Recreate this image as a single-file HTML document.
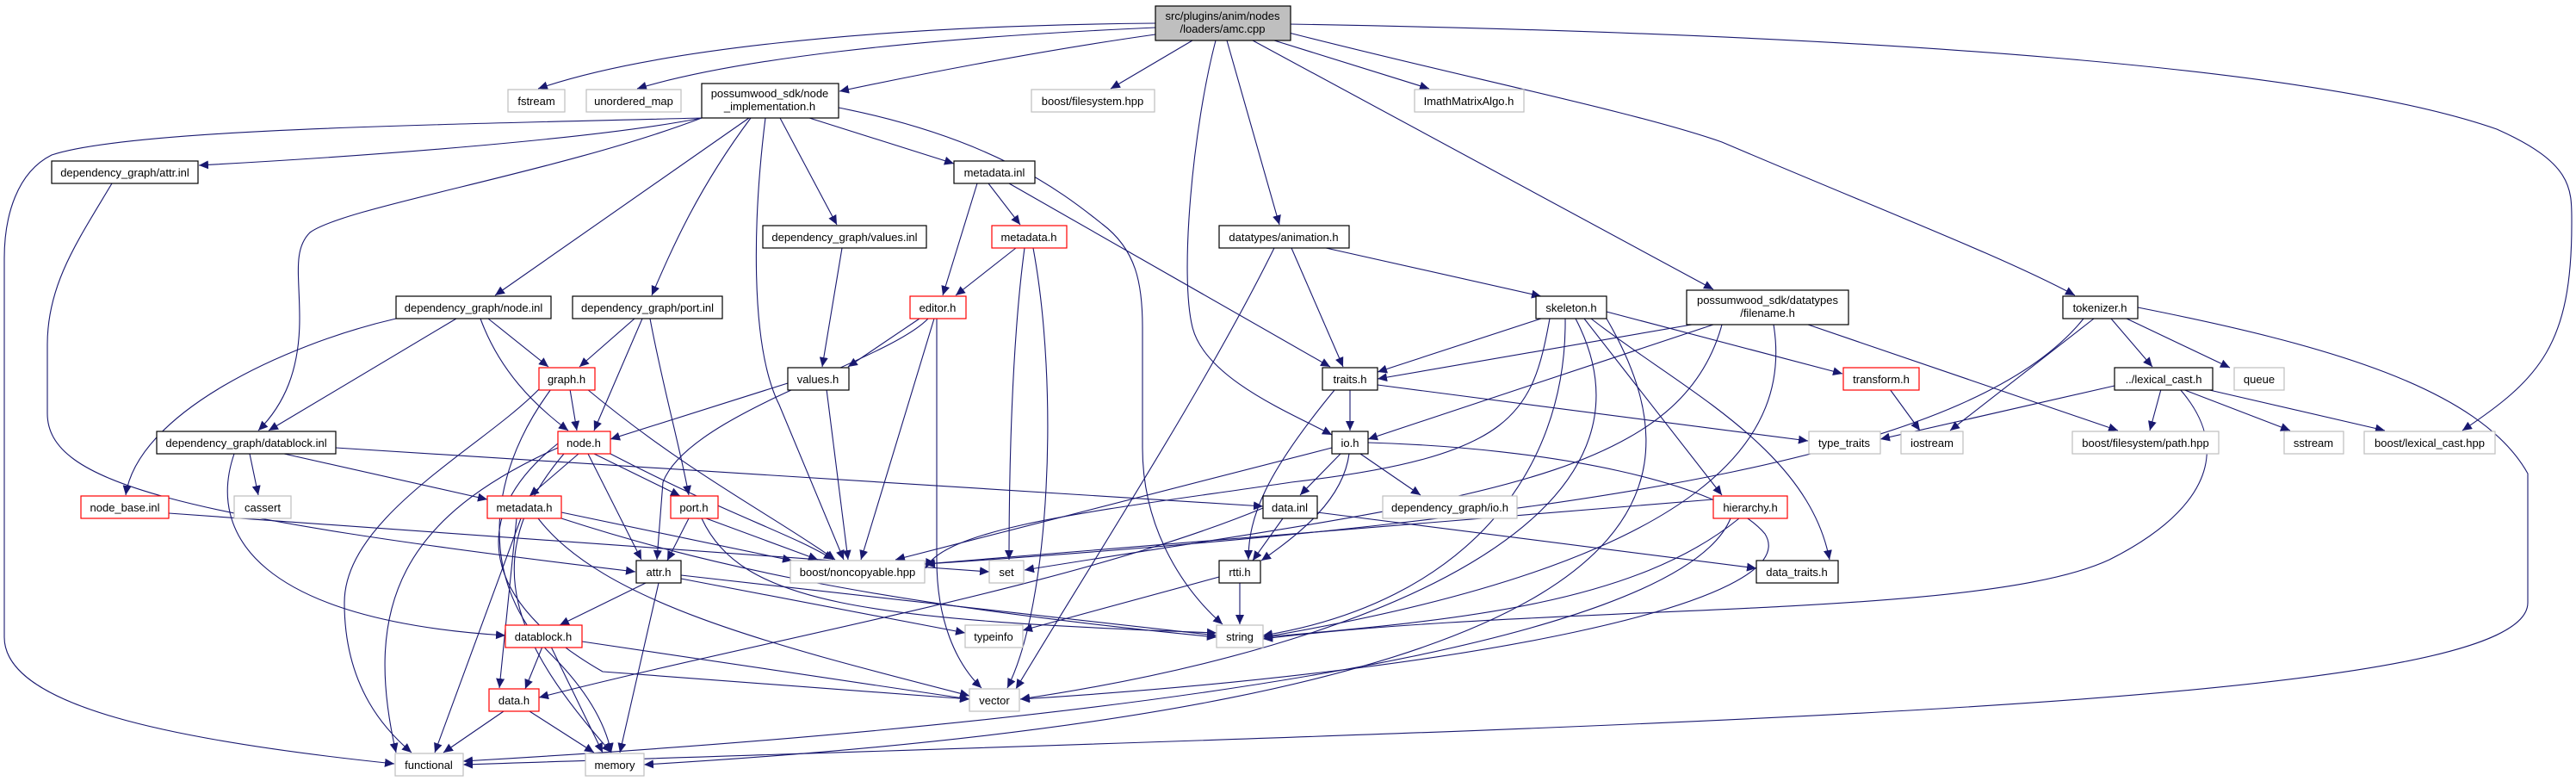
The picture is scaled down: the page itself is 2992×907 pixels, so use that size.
<!DOCTYPE html>
<html><head><meta charset="utf-8"><style>
html,body{margin:0;padding:0;background:#fff;}
svg{display:block;}
text{font-family:"Liberation Sans",Arial,sans-serif;font-size:13px;fill:#000;}
.b{fill:#fff;stroke:#000;stroke-width:1.2}
.r{fill:#fff;stroke:#f00;stroke-width:1.2}
.g{fill:#fff;stroke:#bfbfbf;stroke-width:1.2}
.e{fill:none;stroke:#191970;stroke-width:1.1}
</style></head><body>
<svg width="2992" height="907" viewBox="0 0 2992 907" xmlns="http://www.w3.org/2000/svg">
<defs><marker id="a" markerUnits="userSpaceOnUse" markerWidth="12" markerHeight="10" refX="11" refY="5" orient="auto"><path d="M0,0 L11,5 L0,10 z" fill="#191970"/></marker></defs>
<g class="e" marker-end="url(#a)">
<path d="M1342,27 C1000,30 750,60 625,103"/>
<path d="M1342,32 C1050,45 850,70 740,103"/>
<path d="M1342,40 C1200,60 1050,90 975,106"/>
<path d="M1385,47 L1290,103"/>
<path d="M1412,47 C1385,150 1370,320 1385,380 C1400,440 1500,480 1547,505"/>
<path d="M1425,47 L1486,261"/>
<path d="M1480,47 L1660,103"/>
<path d="M1455,47 L1990,336"/>
<path d="M1497,38 C1700,90 1900,130 2000,165 C2200,250 2330,300 2410,343"/>
<path d="M1497,28 C2200,40 2700,80 2900,150 C2990,190 2987,220 2987,260 C2987,400 2950,440 2860,500"/>
<path d="M815,137 C500,145 150,150 60,180 C20,200 5,250 5,300 L5,740 C5,820 200,860 458,887"/>
<path d="M815,137 C700,160 450,180 231,192"/>
<path d="M815,137 C650,200 400,240 360,270 C340,290 348,320 348,370 C348,430 330,470 300,500"/>
<path d="M870,137 L575,343"/>
<path d="M872,137 C810,220 780,290 757,343"/>
<path d="M889,137 C875,250 870,400 905,470 L980,650"/>
<path d="M906,137 L972,261"/>
<path d="M940,137 L1108,190"/>
<path d="M974,125 C1150,160 1230,220 1280,260 C1320,290 1327,330 1327,380 L1327,520 C1327,620 1380,690 1420,725"/>
<path d="M130,213 C90,280 55,330 55,400 L55,480 C55,560 200,600 738,664"/>
<path d="M460,370 C330,400 160,480 146,575"/>
<path d="M530,370 L312,500"/>
<path d="M567,370 L637,426"/>
<path d="M558,370 C580,430 620,470 660,500"/>
<path d="M737,370 L673,426"/>
<path d="M746,370 L690,500"/>
<path d="M755,370 C770,450 790,520 800,575"/>
<path d="M662,452 L670,500"/>
<path d="M626,452 C560,520 400,600 400,700 C400,800 450,850 478,874"/>
<path d="M640,452 C560,560 560,680 640,760 C690,810 705,850 710,874"/>
<path d="M682,452 C800,550 900,600 970,650"/>
<path d="M915,445 L709,510"/>
<path d="M960,452 L985,650"/>
<path d="M978,288 L955,426"/>
<path d="M1148,213 L1185,261"/>
<path d="M1135,213 L1095,343"/>
<path d="M1172,213 L1545,426"/>
<path d="M1180,288 L1110,343"/>
<path d="M1190,288 C1175,400 1172,550 1172,650"/>
<path d="M1200,288 C1230,450 1220,700 1170,799"/>
<path d="M1068,370 L985,426"/>
<path d="M1078,370 C1030,420 800,480 770,560 L763,650"/>
<path d="M1085,370 L1000,650"/>
<path d="M1088,370 L1088,650 C1088,720 1110,770 1140,799"/>
<path d="M1480,288 C1400,450 1270,650 1180,800"/>
<path d="M1500,288 L1560,426"/>
<path d="M1540,288 L1790,344"/>
<path d="M1790,370 L1600,432"/>
<path d="M1800,370 C1780,480 1760,530 1500,560 C1300,590 1100,610 1075,660"/>
<path d="M1818,370 C1820,550 1700,700 1467,738"/>
<path d="M1830,370 C1950,600 1600,750 1185,812"/>
<path d="M1840,370 L2000,575"/>
<path d="M1866,362 L2140,434"/>
<path d="M1848,370 C1950,450 2100,520 2125,650"/>
<path d="M1965,377 L1600,440"/>
<path d="M1990,377 L1589,510"/>
<path d="M2100,377 L2460,500"/>
<path d="M2060,377 C2080,500 2000,650 1467,740"/>
<path d="M2000,377 C1950,560 1700,580 1190,662"/>
<path d="M2452,370 L2500,426"/>
<path d="M2470,370 L2590,427"/>
<path d="M2432,370 L2265,500"/>
<path d="M2420,370 C2300,520 1900,600 1075,655"/>
<path d="M2483,357 C2700,400 2880,450 2936,550 L2936,700 C2936,820 2000,840 538,888"/>
<path d="M2195,452 L2230,500"/>
<path d="M2456,448 L2184,510"/>
<path d="M2510,452 L2497,500"/>
<path d="M2535,452 L2660,500"/>
<path d="M2562,452 L2770,500"/>
<path d="M2532,452 C2600,530 2550,600 2450,650 C2300,720 1800,700 1467,742"/>
<path d="M1568,453 L1568,500"/>
<path d="M1550,453 C1470,550 1450,600 1450,650"/>
<path d="M1600,447 L2100,512"/>
<path d="M1547,520 L1040,650"/>
<path d="M1557,527 L1510,575"/>
<path d="M1567,527 C1560,580 1510,620 1465,651"/>
<path d="M1580,527 L1650,575"/>
<path d="M1589,514 C1800,520 2000,560 2050,620 C2100,700 1700,780 1185,812"/>
<path d="M290,527 L300,575"/>
<path d="M330,527 L566,580"/>
<path d="M272,527 C240,620 300,720 587,738"/>
<path d="M390,520 L1467,588"/>
<path d="M672,527 L615,576"/>
<path d="M690,527 L790,576"/>
<path d="M683,527 L745,650"/>
<path d="M709,527 C850,600 920,620 968,650"/>
<path d="M648,520 C470,600 420,700 460,874"/>
<path d="M655,527 C550,650 600,750 710,874"/>
<path d="M648,515 C540,600 560,700 700,780 L1126,812"/>
<path d="M196,596 L1149,664"/>
<path d="M652,595 L920,651"/>
<path d="M652,602 C800,650 1000,700 1413,740"/>
<path d="M600,602 L580,799"/>
<path d="M605,602 L505,874"/>
<path d="M625,602 C700,700 900,750 1126,808"/>
<path d="M800,602 L775,651"/>
<path d="M820,602 L950,650"/>
<path d="M815,602 C860,700 1000,720 1413,735"/>
<path d="M750,677 L650,726"/>
<path d="M765,677 L720,874"/>
<path d="M791,672 L1121,735"/>
<path d="M791,668 L1413,738"/>
<path d="M630,751 L610,800"/>
<path d="M640,751 L700,874"/>
<path d="M676,745 L1126,812"/>
<path d="M585,826 L515,874"/>
<path d="M615,826 L690,874"/>
<path d="M1490,602 L1455,651"/>
<path d="M1530,595 L2040,660"/>
<path d="M1467,590 C1250,680 900,740 626,810"/>
<path d="M1416,670 L1188,732"/>
<path d="M1440,677 L1440,725"/>
<path d="M1990,580 L1074,655"/>
<path d="M2020,602 C1900,700 1700,720 1467,740"/>
<path d="M2010,602 C1950,750 1300,840 538,884"/>
<path d="M1866,370 C2000,600 1900,820 748,888"/>
</g>
<g text-anchor="middle">
<rect x="1342" y="7" width="157" height="40" fill="#bfbfbf" stroke="#000" stroke-width="1.2"/><text x="1420" y="23">src/plugins/anim/nodes</text><text x="1420" y="38">/loaders/amc.cpp</text>
<rect class="g" x="590" y="104" width="66" height="26"/><text x="623" y="122">fstream</text>
<rect class="g" x="681" y="104" width="110" height="26"/><text x="736" y="122">unordered_map</text>
<rect class="b" x="815" y="97" width="159" height="40"/><text x="894" y="113">possumwood_sdk/node</text><text x="894" y="128">_implementation.h</text>
<rect class="g" x="1198" y="104" width="143" height="26"/><text x="1269" y="122">boost/filesystem.hpp</text>
<rect class="g" x="1643" y="104" width="127" height="26"/><text x="1706" y="122">ImathMatrixAlgo.h</text>
<rect class="b" x="60" y="187" width="170" height="26"/><text x="145" y="205">dependency_graph/attr.inl</text>
<rect class="b" x="1108" y="187" width="94" height="26"/><text x="1155" y="205">metadata.inl</text>
<rect class="b" x="886" y="262" width="190" height="26"/><text x="981" y="280">dependency_graph/values.inl</text>
<rect class="r" x="1152" y="262" width="87" height="26"/><text x="1195" y="280">metadata.h</text>
<rect class="b" x="1416" y="262" width="151" height="26"/><text x="1491" y="280">datatypes/animation.h</text>
<rect class="b" x="460" y="344" width="180" height="26"/><text x="550" y="362">dependency_graph/node.inl</text>
<rect class="b" x="665" y="344" width="174" height="26"/><text x="752" y="362">dependency_graph/port.inl</text>
<rect class="r" x="1057" y="344" width="65" height="26"/><text x="1089" y="362">editor.h</text>
<rect class="b" x="1784" y="344" width="82" height="26"/><text x="1825" y="362">skeleton.h</text>
<rect class="b" x="1959" y="337" width="188" height="40"/><text x="2053" y="353">possumwood_sdk/datatypes</text><text x="2053" y="368">/filename.h</text>
<rect class="b" x="2396" y="344" width="87" height="26"/><text x="2439" y="362">tokenizer.h</text>
<rect class="r" x="626" y="427" width="65" height="26"/><text x="658" y="445">graph.h</text>
<rect class="b" x="915" y="427" width="71" height="26"/><text x="950" y="445">values.h</text>
<rect class="b" x="1536" y="427" width="64" height="26"/><text x="1568" y="445">traits.h</text>
<rect class="r" x="2141" y="427" width="88" height="26"/><text x="2185" y="445">transform.h</text>
<rect class="b" x="2456" y="427" width="114" height="26"/><text x="2513" y="445">../lexical_cast.h</text>
<rect class="g" x="2595" y="427" width="58" height="26"/><text x="2624" y="445">queue</text>
<rect class="b" x="182" y="501" width="208" height="26"/><text x="286" y="519">dependency_graph/datablock.inl</text>
<rect class="r" x="648" y="501" width="61" height="26"/><text x="678" y="519">node.h</text>
<rect class="b" x="1547" y="501" width="42" height="26"/><text x="1568" y="519">io.h</text>
<rect class="g" x="2101" y="501" width="83" height="26"/><text x="2142" y="519">type_traits</text>
<rect class="g" x="2208" y="501" width="72" height="26"/><text x="2244" y="519">iostream</text>
<rect class="g" x="2407" y="501" width="170" height="26"/><text x="2492" y="519">boost/filesystem/path.hpp</text>
<rect class="g" x="2653" y="501" width="69" height="26"/><text x="2687" y="519">sstream</text>
<rect class="g" x="2746" y="501" width="152" height="26"/><text x="2822" y="519">boost/lexical_cast.hpp</text>
<rect class="r" x="94" y="576" width="102" height="26"/><text x="145" y="594">node_base.inl</text>
<rect class="g" x="272" y="576" width="66" height="26"/><text x="305" y="594">cassert</text>
<rect class="r" x="566" y="576" width="86" height="26"/><text x="609" y="594">metadata.h</text>
<rect class="r" x="779" y="576" width="55" height="26"/><text x="806" y="594">port.h</text>
<rect class="b" x="1467" y="576" width="63" height="26"/><text x="1498" y="594">data.inl</text>
<rect class="g" x="1606" y="576" width="156" height="26"/><text x="1684" y="594">dependency_graph/io.h</text>
<rect class="r" x="1990" y="576" width="86" height="26"/><text x="2033" y="594">hierarchy.h</text>
<rect class="b" x="739" y="651" width="52" height="26"/><text x="765" y="669">attr.h</text>
<rect class="g" x="918" y="651" width="156" height="26"/><text x="996" y="669">boost/noncopyable.hpp</text>
<rect class="g" x="1149" y="651" width="40" height="26"/><text x="1169" y="669">set</text>
<rect class="b" x="1416" y="651" width="48" height="26"/><text x="1440" y="669">rtti.h</text>
<rect class="b" x="2040" y="651" width="95" height="26"/><text x="2087" y="669">data_traits.h</text>
<rect class="r" x="587" y="726" width="89" height="26"/><text x="631" y="744">datablock.h</text>
<rect class="g" x="1121" y="726" width="67" height="26"/><text x="1154" y="744">typeinfo</text>
<rect class="g" x="1413" y="726" width="54" height="26"/><text x="1440" y="744">string</text>
<rect class="r" x="568" y="800" width="58" height="26"/><text x="597" y="818">data.h</text>
<rect class="g" x="1126" y="800" width="58" height="26"/><text x="1155" y="818">vector</text>
<rect class="g" x="459" y="875" width="79" height="26"/><text x="498" y="893">functional</text>
<rect class="g" x="680" y="875" width="68" height="26"/><text x="714" y="893">memory</text>
</g>
</svg>
</body></html>
